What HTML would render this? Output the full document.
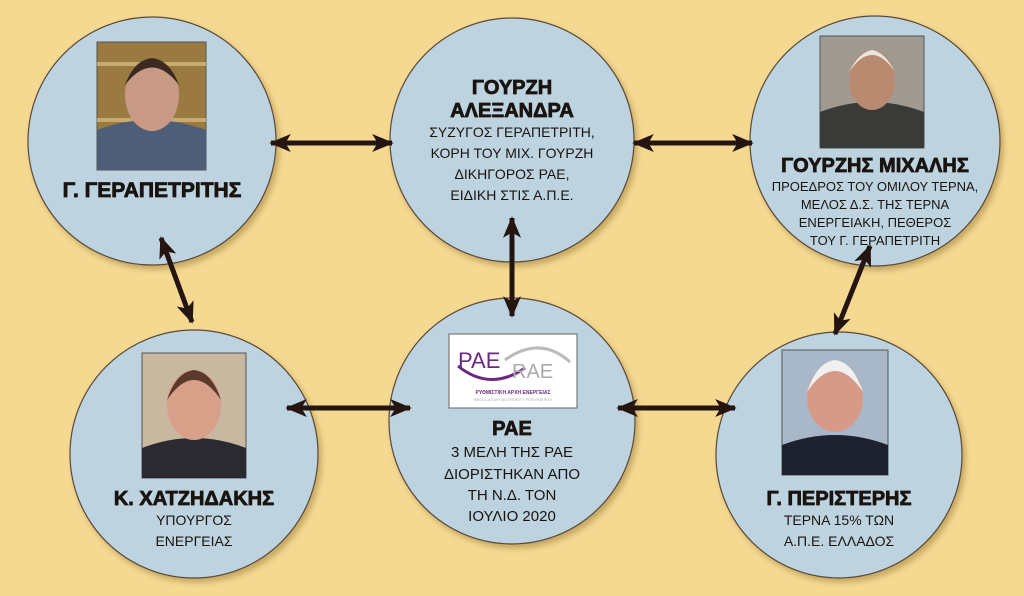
<!DOCTYPE html>
<html><head><meta charset="utf-8"><style>
body{margin:0;width:1024px;height:591px;background:#f5d991;overflow:hidden;font-family:"Liberation Sans","DejaVu Sans",sans-serif;}
</style></head><body>
<svg width="1024" height="591" viewBox="0 0 1024 591" xmlns="http://www.w3.org/2000/svg">
<defs>
<marker id="ah" viewBox="0 0 12 10" refX="11" refY="5" markerWidth="5.5" markerHeight="3.6" orient="auto-start-reverse"><path d="M0,0 L12,5 L0,10 L3,5 z" fill="#241510"/></marker>
<filter id="sh" x="-10%" y="-10%" width="130%" height="130%"><feDropShadow dx="3" dy="4" stdDeviation="3" flood-color="#8a6a2a" flood-opacity="0.45"/></filter>
</defs>
<g fill="#bdd3df" stroke="#5a4a3a" stroke-width="1.2" filter="url(#sh)">
<circle cx="152" cy="141" r="124"/>
<circle cx="512" cy="140" r="122"/>
<circle cx="875" cy="141" r="125"/>
<circle cx="194" cy="454" r="124"/>
<circle cx="512" cy="421" r="123"/>
<circle cx="839" cy="455" r="123"/>
</g>
<g stroke="#241510" stroke-width="5" marker-start="url(#ah)" marker-end="url(#ah)">
<line x1="271" y1="143" x2="392" y2="143"/>
<line x1="634" y1="143" x2="752" y2="143"/>
<line x1="512" y1="218" x2="512" y2="316"/>
<line x1="161" y1="238" x2="192" y2="322"/>
<line x1="870" y1="246" x2="835" y2="334"/>
<line x1="287" y1="408" x2="410" y2="408"/>
<line x1="618" y1="408" x2="735" y2="408"/>
</g>
<g>
<rect x="97" y="42" width="109" height="128" fill="#9a7a40" stroke="#555"/>
<rect x="97" y="62" width="109" height="4" fill="#c8aa70"/><rect x="97" y="118" width="109" height="4" fill="#c8aa70"/>
<path d="M97,170 L97,130 Q150,110 206,130 L206,170 z" fill="#4e5d78"/>
<ellipse cx="152" cy="95" rx="27" ry="36" fill="#c89a85"/>
<path d="M125,85 Q152,50 179,85 Q170,60 152,58 Q134,60 125,85z" fill="#3a2a22"/>
<rect x="820" y="36" width="104" height="112" fill="#a09a90" stroke="#555"/>
<path d="M820,148 L820,112 Q872,92 924,112 L924,148z" fill="#3a3a36"/>
<ellipse cx="872" cy="80" rx="23" ry="30" fill="#b88a70"/>
<path d="M849,72 Q872,38 895,72 Q885,52 872,50 Q859,52 849,72z" fill="#e8e6e0"/>
<rect x="142" y="353" width="104" height="125" fill="#c9b8a0" stroke="#555"/>
<path d="M142,478 L142,448 Q194,428 246,448 L246,478z" fill="#2a2a30"/>
<ellipse cx="194" cy="405" rx="27" ry="35" fill="#d8a088"/>
<path d="M167,400 Q194,360 221,400 Q212,372 194,370 Q176,372 167,400z" fill="#5a3a2a"/>
<rect x="782" y="350" width="106" height="125" fill="#a8b8c8" stroke="#555"/>
<path d="M782,475 L782,445 Q835,425 888,445 L888,475z" fill="#1e2230"/>
<ellipse cx="835" cy="398" rx="28" ry="34" fill="#d89a88"/>
<path d="M807,392 Q835,350 863,392 Q853,362 835,360 Q817,362 807,392z" fill="#f0f0f0"/>
<rect x="449" y="334" width="128" height="74" fill="#fff" stroke="#666"/>
<text x="458" y="368" font-size="22" fill="#6a2a80" font-family="Liberation Sans">PAE</text>
<path d="M458,366 Q490,392 525,368" stroke="#6a2a80" stroke-width="3" fill="none"/>
<path d="M505,360 Q540,335 570,362" stroke="#bbb" stroke-width="3" fill="none"/>
<text x="512" y="378" font-size="20" fill="#aaa" font-family="Liberation Sans">RAE</text>
<text x="513" y="394" font-size="5" fill="#6a2a80" text-anchor="middle" font-weight="bold">ΡΥΘΜΙΣΤΙΚΗ ΑΡΧΗ ΕΝΕΡΓΕΙΑΣ</text>
<text x="513" y="401" font-size="4" fill="#aaa" text-anchor="middle">REGULATORY AUTHORITY FOR ENERGY</text>
</g>
<g fill="#1a1410" text-anchor="middle" font-family="Liberation Sans, DejaVu Sans, sans-serif">
<g font-weight="900" stroke="#1a1410" stroke-width="0.8">
<text x="152" y="197" font-size="21">Γ. ΓΕΡΑΠΕΤΡΙΤΗΣ</text>
<text x="512" y="94" font-size="20">ΓΟΥΡΖΗ</text>
<text x="512" y="117" font-size="20">ΑΛΕΞΑΝΔΡΑ</text>
<text x="875" y="172" font-size="20">ΓΟΥΡΖΗΣ ΜΙΧΑΛΗΣ</text>
<text x="194" y="505" font-size="20">Κ. ΧΑΤΖΗΔΑΚΗΣ</text>
<text x="512" y="435" font-size="20">ΡΑΕ</text>
<text x="839" y="505" font-size="20">Γ. ΠΕΡΙΣΤΕΡΗΣ</text>
</g>
<g font-size="14"><text x="512" y="137">ΣΥΖΥΓΟΣ ΓΕΡΑΠΕΤΡΙΤΗ,</text><text x="512" y="158">ΚΟΡΗ ΤΟΥ ΜΙΧ. ΓΟΥΡΖΗ</text><text x="512" y="179">ΔΙΚΗΓΟΡΟΣ ΡΑΕ,</text><text x="512" y="200">ΕΙΔΙΚΗ ΣΤΙΣ Α.Π.Ε.</text></g>
<g font-size="13"><text x="875" y="191">ΠΡΟΕΔΡΟΣ ΤΟΥ ΟΜΙΛΟΥ ΤΕΡΝΑ,</text><text x="875" y="209">ΜΕΛΟΣ Δ.Σ. ΤΗΣ ΤΕΡΝΑ</text><text x="875" y="227">ΕΝΕΡΓΕΙΑΚΗ, ΠΕΘΕΡΟΣ</text><text x="875" y="245">ΤΟΥ Γ. ΓΕΡΑΠΕΤΡΙΤΗ</text></g>
<g font-size="14"><text x="194" y="525">ΥΠΟΥΡΓΟΣ</text><text x="194" y="546">ΕΝΕΡΓΕΙΑΣ</text></g>
<g font-size="15"><text x="512" y="457">3 ΜΕΛΗ ΤΗΣ ΡΑΕ</text><text x="512" y="479">ΔΙΟΡΙΣΤΗΚΑΝ ΑΠΟ</text><text x="512" y="500">ΤΗ Ν.Δ. ΤΟΝ</text><text x="512" y="521">ΙΟΥΛΙΟ 2020</text></g>
<g font-size="14"><text x="839" y="525">ΤΕΡΝΑ 15% ΤΩΝ</text><text x="839" y="546">Α.Π.Ε. ΕΛΛΑΔΟΣ</text></g>
</g>
</svg>
</body></html>
